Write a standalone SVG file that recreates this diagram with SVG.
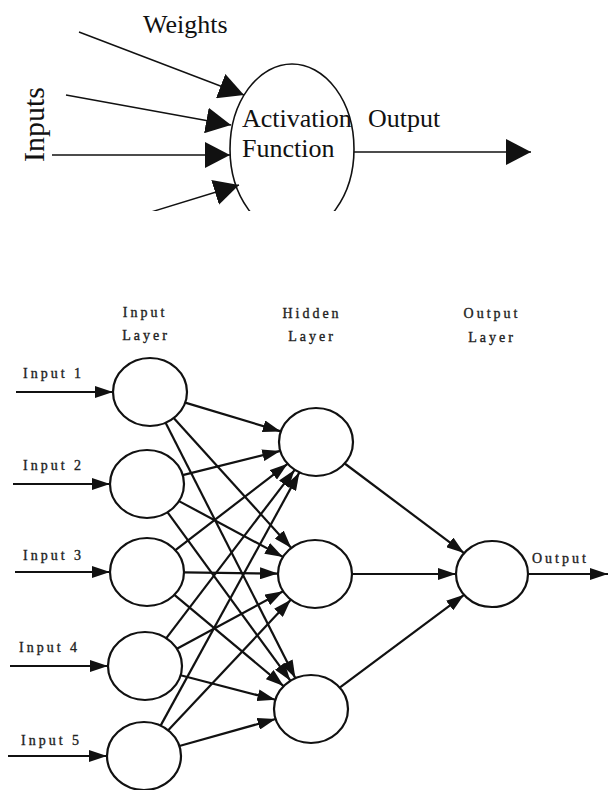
<svg xmlns="http://www.w3.org/2000/svg" width="609" height="790" viewBox="0 0 609 790">
<style>
.top{font-family:"Liberation Serif","Times New Roman",serif;fill:#111}
.lbl{font-family:"Liberation Serif","Times New Roman",serif;font-size:14px;letter-spacing:3px;fill:#222;stroke:#222;stroke-width:0.35}
.tl{stroke:#111;stroke-width:1.4;fill:none}
.nl{stroke:#111;stroke-width:2.2;fill:none;marker-end:url(#ah)}
.node{fill:#fff;stroke:#111;stroke-width:2.2}
</style>
<defs>
<marker id="big" markerUnits="userSpaceOnUse" markerWidth="25" markerHeight="26" refX="25" refY="13" orient="auto"><path d="M0,0 L25,13 L0,26 z" fill="#111"/></marker>
<marker id="ah" markerUnits="userSpaceOnUse" markerWidth="18" markerHeight="12" refX="18" refY="6" orient="auto"><path d="M0,0 L18,6 L0,12 z" fill="#111"/></marker>
<clipPath id="topclip"><rect x="0" y="0" width="609" height="211"/></clipPath>
</defs>
<rect width="609" height="790" fill="#fff"/>
<g id="perceptron" clip-path="url(#topclip)">
<g id="top-connectors">
<line class="tl" x1="79" y1="32" x2="244" y2="95" marker-end="url(#big)"/>
<line class="tl" x1="66" y1="95" x2="231" y2="125" marker-end="url(#big)"/>
<line class="tl" x1="52" y1="155" x2="230" y2="155" marker-end="url(#big)"/>
<line class="tl" x1="125" y1="220" x2="239" y2="185" marker-end="url(#big)"/>
<line class="tl" x1="354" y1="152" x2="531" y2="152" marker-end="url(#big)"/>
</g>
<g id="activation">
<ellipse cx="292" cy="149" rx="62" ry="85" fill="none" stroke="#111" stroke-width="1.6"/>
<text class="top" x="242" y="127" font-size="26">Activation</text>
<text class="top" x="242" y="157" font-size="26">Function</text>
</g>
<text class="top" x="143" y="33" font-size="26">Weights</text>
<text class="top" x="368" y="127" font-size="26">Output</text>
<text class="top" font-size="30" transform="translate(44,162) rotate(-90)">Inputs</text>
</g>
<g id="layer-labels">
<text class="lbl" x="145" y="317" text-anchor="middle">Input</text>
<text class="lbl" x="146" y="340" text-anchor="middle">Layer</text>
<text class="lbl" x="312" y="318" text-anchor="middle">Hidden</text>
<text class="lbl" x="312" y="341" text-anchor="middle">Layer</text>
<text class="lbl" x="492" y="318" text-anchor="middle">Output</text>
<text class="lbl" x="492" y="342" text-anchor="middle">Layer</text>
</g>
<g id="connectors">
<line class="nl" x1="16" y1="392" x2="113" y2="392"/>
<line class="nl" x1="13" y1="484" x2="110" y2="484"/>
<line class="nl" x1="15" y1="572" x2="110" y2="572"/>
<line class="nl" x1="10" y1="666" x2="108" y2="666"/>
<line class="nl" x1="8" y1="756" x2="107" y2="756"/>
<line class="nl" x1="185.2" y1="402.6" x2="280.8" y2="431.4"/>
<line class="nl" x1="173.7" y1="418.1" x2="291.3" y2="547.9"/>
<line class="nl" x1="165.6" y1="422.8" x2="295.4" y2="678.2"/>
<line class="nl" x1="182.7" y1="475.1" x2="280.3" y2="450.9"/>
<line class="nl" x1="179" y1="501.1" x2="283" y2="556.9"/>
<line class="nl" x1="167.6" y1="512.3" x2="290.4" y2="680.7"/>
<line class="nl" x1="175.4" y1="550.2" x2="287.6" y2="463.8"/>
<line class="nl" x1="184" y1="572.4" x2="278" y2="573.6"/>
<line class="nl" x1="174.4" y1="594.9" x2="283.6" y2="686.1"/>
<line class="nl" x1="166.3" y1="638.2" x2="294.7" y2="469.8"/>
<line class="nl" x1="176.9" y1="648.7" x2="283.1" y2="591.3"/>
<line class="nl" x1="180.6" y1="675.2" x2="275.4" y2="699.8"/>
<line class="nl" x1="160.6" y1="725.6" x2="299.4" y2="472.4"/>
<line class="nl" x1="168.2" y1="730.3" x2="290.8" y2="599.7"/>
<line class="nl" x1="179.4" y1="746" x2="275.6" y2="719"/>
<line class="nl" x1="344.7" y1="463.5" x2="464.1" y2="553.1"/>
<line class="nl" x1="352" y1="574" x2="456" y2="574"/>
<line class="nl" x1="339.7" y1="687.6" x2="464.1" y2="594.8"/>
<line class="nl" x1="528" y1="574" x2="608" y2="574"/>
</g>
<g id="in1"><ellipse class="node" cx="150" cy="392" rx="37" ry="34"/><text class="lbl" x="23" y="378">Input 1</text></g>
<g id="in2"><ellipse class="node" cx="147" cy="484" rx="37" ry="34"/><text class="lbl" x="23" y="470">Input 2</text></g>
<g id="in3"><ellipse class="node" cx="147" cy="572" rx="37" ry="34"/><text class="lbl" x="23" y="560">Input 3</text></g>
<g id="in4"><ellipse class="node" cx="145" cy="666" rx="37" ry="34"/><text class="lbl" x="19" y="652">Input 4</text></g>
<g id="in5"><ellipse class="node" cx="144" cy="756" rx="37" ry="34"/><text class="lbl" x="21" y="745">Input 5</text></g>
<g id="h1"><ellipse class="node" cx="316" cy="442" rx="37" ry="34"/></g>
<g id="h2"><ellipse class="node" cx="315" cy="574" rx="37" ry="34"/></g>
<g id="h3"><ellipse class="node" cx="311" cy="709" rx="37" ry="34"/></g>
<g id="out"><ellipse class="node" cx="492" cy="574" rx="36" ry="33"/><text class="lbl" x="532" y="563">Output</text></g>
</svg>
